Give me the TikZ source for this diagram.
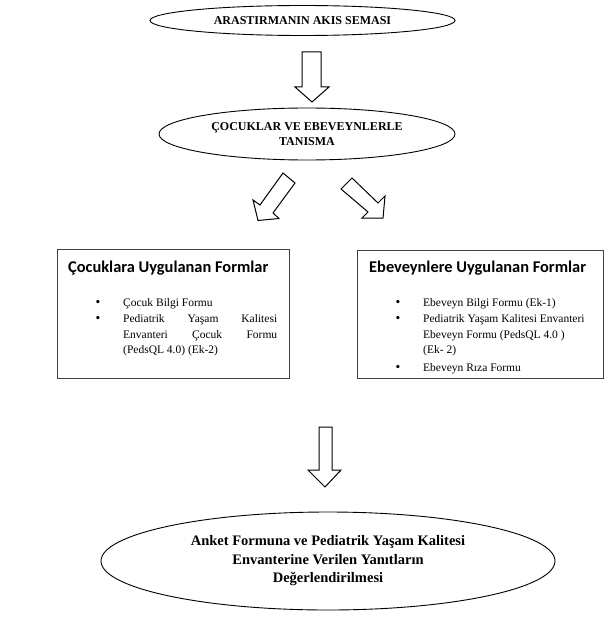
\documentclass[tikz,border=0pt]{standalone}
\usepackage{fontspec}
\setmainfont{Liberation Serif}
\newfontfamily\calibri{Carlito}
\usetikzlibrary{shapes.geometric}
\begin{document}
\begin{tikzpicture}[x=1pt,y=-1pt,
  oval/.style={draw=black, line width=0.9pt, ellipse, inner sep=0pt, align=center},
  formbox/.style={draw=black!75, line width=1.2pt, inner sep=0pt},
  blockarrow/.style={draw=black, line width=1pt, fill=white, line join=miter},
  boxtitle/.style={anchor=base west, inner sep=0pt, font=\calibri\bfseries\fontsize{16.4}{20}\selectfont},
  itemline/.style={anchor=base west, inner sep=0pt, font=\fontsize{11.5}{15.5}\selectfont},
  bulletmark/.style={anchor=base, inner sep=0pt, font=\fontsize{13.5}{15.5}\selectfont}]
\useasboundingbox (0,0) rectangle (608,623);

% top ellipse
\node[oval, minimum width=305pt, minimum height=30pt, font=\bfseries\fontsize{12}{15}\selectfont] (head) at (302.5,20.5) {\raisebox{-3.5pt}{ARASTIRMANIN AKIS SEMASI}};

% arrow 1
\draw[blockarrow] (302,52) -- (321,52) -- (321,87) -- (329,87) -- (312,102) -- (295,87) -- (302,87) -- cycle;

% second ellipse
\node[oval, minimum width=296pt, minimum height=52pt, font=\bfseries\fontsize{12}{15}\selectfont] (meet) at (307,134) {ÇOCUKLAR VE EBEVEYNLERLE\\TANISMA};

% diagonal arrows
\draw[blockarrow] (283,173) -- (295,183) -- (273,213) -- (279,218.5) -- (258,220.5) -- (253,200) -- (260,205) -- cycle;
\draw[blockarrow] (341,189) -- (352,178) -- (378,203) -- (385,196) -- (383,218) -- (362,218) -- (368,212) -- cycle;

% left box
\node[formbox, anchor=north west, minimum width=232pt, minimum height=129pt] (lbox) at (57,249) {};
\node[boxtitle] (ltitle) at (68,272.5) {Çocuklara Uygulanan Formlar};
\node[bulletmark] (lb1) at (98,306) {•};
\node[itemline] (l1) at (123,306) {Çocuk Bilgi Formu};
\node[bulletmark] (lb2) at (98,322.5) {•};
\node[itemline] (l2) at (123,322.5) {\makebox[154pt][s]{Pediatrik Yaşam Kalitesi}};
\node[itemline] (l3) at (123,338) {\makebox[154pt][s]{Envanteri Çocuk Formu}};
\node[itemline] (l4) at (123,353.5) {(PedsQL 4.0) (Ek-2)};

% right box
\node[formbox, anchor=north west, minimum width=246pt, minimum height=128pt] (rbox) at (357,250) {};
\node[boxtitle] (rtitle) at (369,272.5) {Ebeveynlere Uygulanan Formlar};
\node[bulletmark] (rb1) at (398,306) {•};
\node[itemline] (r1) at (423,306) {Ebeveyn Bilgi Formu (Ek-1)};
\node[bulletmark] (rb2) at (398,322.5) {•};
\node[itemline] (r2) at (423,322.5) {Pediatrik Yaşam Kalitesi Envanteri};
\node[itemline] (r3) at (423,338) {Ebeveyn Formu (PedsQL 4.0 )};
\node[itemline] (r4) at (423,353.5) {(Ek- 2)};
\node[bulletmark] (rb3) at (398,371) {•};
\node[itemline] (r5) at (423,371) {Ebeveyn Rıza Formu};

% arrow 3
\draw[blockarrow] (319,427) -- (332,427) -- (332,470) -- (341,470) -- (325,487) -- (308,470) -- (319,470) -- cycle;

% bottom ellipse
\node[oval, minimum width=454pt, minimum height=98pt, font=\bfseries\fontsize{14.5}{18.5}\selectfont] (eval) at (328,561) {Anket Formuna ve Pediatrik Yaşam Kalitesi\\Envanterine Verilen Yanıtların\\Değerlendirilmesi};
\end{tikzpicture}
\end{document}
